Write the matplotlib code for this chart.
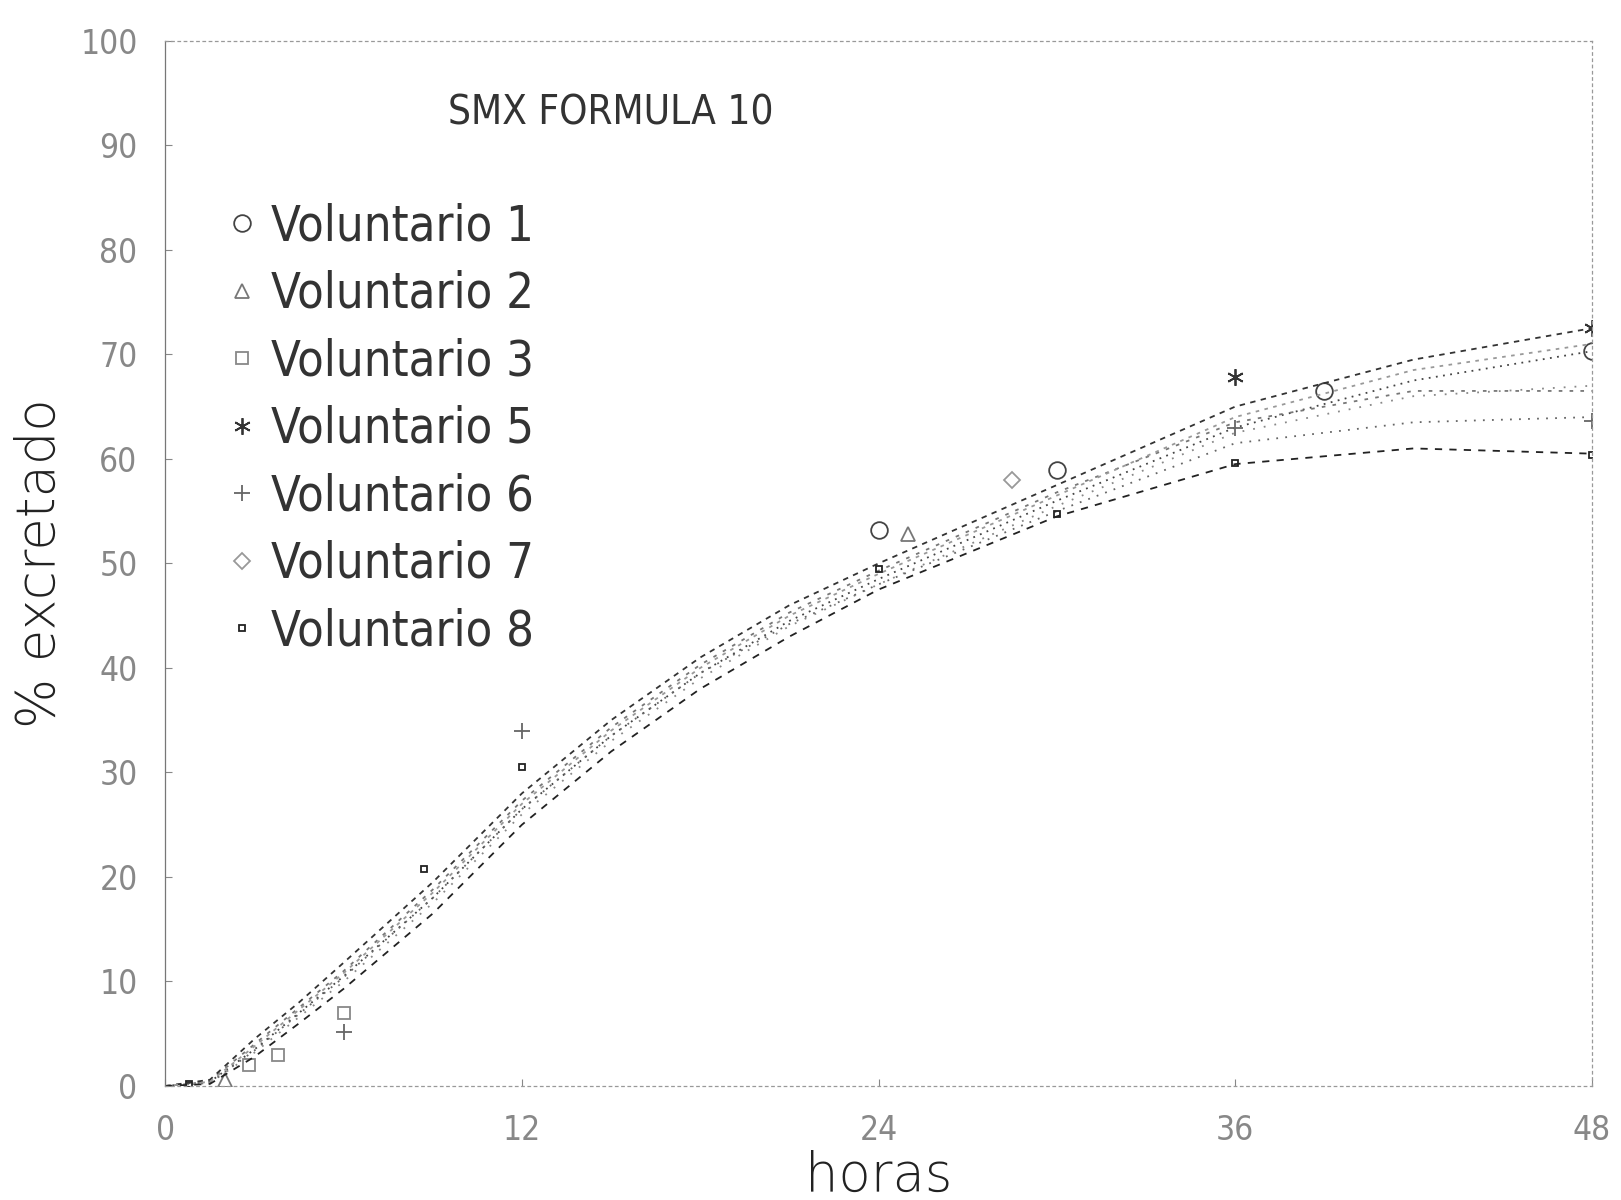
import matplotlib
matplotlib.use("Agg")
import matplotlib.pyplot as plt
from matplotlib.lines import Line2D

plt.rcParams['font.family'] = ['DejaVu Sans']
plt.rcParams['font.stretch'] = 'condensed'

# fitted curves
t_curve = [0, 1.5, 3, 4.5, 6, 9, 12, 15, 18, 21, 24, 30, 36, 42, 48]
v1_curve = [0, 0.4, 3.5, 7.0, 10.5, 18.0, 26.5, 33.5, 39.5, 44.5, 48.5, 56.0, 63.0, 67.5, 70.3]
v2_curve = [0, 0.5, 4.0, 7.5, 11.0, 18.8, 27.3, 34.3, 40.3, 45.3, 49.3, 56.8, 63.5, 66.5, 66.5]
v3_curve = [0, 0.3, 3.2, 6.6, 10.0, 17.5, 26.0, 33.0, 39.0, 44.0, 48.0, 55.5, 62.5, 66.0, 67.0]
v5_curve = [0, 0.6, 4.5, 8.0, 11.8, 19.5, 28.0, 35.0, 41.0, 46.0, 50.0, 57.5, 65.0, 69.5, 72.5]
v6_curve = [0, 0.3, 3.4, 6.9, 10.4, 18.0, 26.5, 33.5, 39.5, 44.2, 48.0, 55.0, 61.5, 63.5, 64.0]
v7_curve = [0, 0.4, 3.8, 7.3, 10.8, 18.5, 27.0, 34.0, 40.0, 45.0, 49.0, 56.5, 64.0, 68.5, 71.0]
v8_curve = [0, 0.2, 2.8, 6.0, 9.3, 16.5, 25.0, 32.0, 38.0, 43.0, 47.5, 54.5, 59.5, 61.0, 60.5]

# observed points that are still visible on the chart
v1_t, v1_y = [24, 30, 39, 48], [53.2, 58.9, 66.5, 70.3]
v2_t, v2_y = [2, 25], [0.6, 52.8]
v3_t, v3_y = [2.8, 3.8, 6], [2.0, 3.0, 7.0]
v5_t, v5_y = [36, 48], [67.8, 72.5]
v6_t, v6_y = [6, 12, 36, 48], [5.2, 34.0, 63.0, 63.6]
v7_t, v7_y = [28.5], [58.0]
v8_t, v8_y = [0.8, 8.7, 12, 24, 30, 36, 48], [0.2, 20.8, 30.5, 49.5, 54.7, 59.6, 60.4]

labels = ['Voluntario 1', 'Voluntario 2', 'Voluntario 3', 'Voluntario 5',
          'Voluntario 6', 'Voluntario 7', 'Voluntario 8']
x_ticks = [0, 12, 24, 36, 48]
y_ticks = [0, 10, 20, 30, 40, 50, 60, 70, 80, 90, 100]

curves = [v1_curve, v2_curve, v3_curve, v5_curve, v6_curve, v7_curve, v8_curve]
points = [(v1_t, v1_y), (v2_t, v2_y), (v3_t, v3_y), (v5_t, v5_y),
          (v6_t, v6_y), (v7_t, v7_y), (v8_t, v8_y)]
markers = ['o', '^', 's', (6, 2, 0), '+', 'D', 's']
msizes = [12, 10, 8, 12, 12, 8, 5]
styles = [(0, (1, 3)), (0, (2, 4)), (0, (1, 5)), (0, (3, 3)),
          (0, (1, 4)), (0, (2, 3)), (0, (4, 4))]
greys = ['#444444', '#777777', '#888888', '#333333', '#666666', '#999999', '#222222']

fig = plt.figure(figsize=(16.21, 12), dpi=100)
ax = fig.add_axes([0.102, 0.095, 0.880, 0.871])

for c, (pt, py), m, ms, ls, g in zip(curves, points, markers, msizes, styles, greys):
    ax.plot(t_curve, c, color=g, lw=1.3, linestyle=ls)
    ax.plot(pt, py, linestyle='none', marker=m, markersize=ms, markerfacecolor='none',
            markeredgecolor=g, markeredgewidth=1.3)

ax.set_xlim(0, 48)
ax.set_ylim(0, 100)
ax.set_xticks(x_ticks)
ax.set_yticks(y_ticks)
ax.tick_params(direction='in', length=5, width=0.8, colors='#888888',
               labelsize=24, labelcolor='#888888', pad=20)
for lab in ax.get_xticklabels() + ax.get_yticklabels():
    lab.set_fontweight('light')
for s in ax.spines.values():
    s.set_color('#999999')
    s.set_linewidth(0.9)
    s.set_linestyle((0, (2, 3)))
ax.spines['left'].set_linestyle('-')
ax.spines['left'].set_color('#777777')

ax.set_xlabel('horas', fontsize=38, fontstretch='normal', fontweight='light',
              color='#222222', labelpad=2)
ax.set_ylabel('% excretado', fontsize=38, fontstretch='normal', fontweight='light',
              color='#222222', labelpad=10)

ax.text(0.198, 0.93, 'SMX FORMULA 10', transform=ax.transAxes, fontsize=29,
        fontweight='light', color='#333333', ha='left', va='center')

handles = [Line2D([], [], linestyle='none', marker=m, markersize=ms,
                  markerfacecolor='none', markeredgecolor=g, markeredgewidth=1.3)
           for m, ms, g in zip(markers, msizes, greys)]
leg = ax.legend(handles, labels, loc='upper left', bbox_to_anchor=(0.03, 0.864),
                frameon=False, handlelength=0.6, handletextpad=0.3,
                labelspacing=0.40, borderaxespad=0,
                prop={'size': 35, 'weight': 'light', 'stretch': 'condensed'})
for t in leg.get_texts():
    t.set_color('#333333')

fig.savefig('out.png', dpi=100)
